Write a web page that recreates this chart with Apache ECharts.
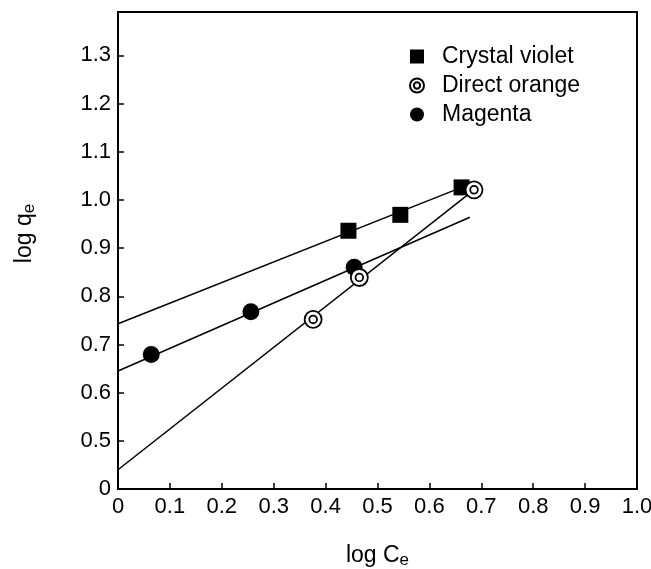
<!DOCTYPE html>
<html>
<head>
<meta charset="utf-8">
<script src="https://cdn.jsdelivr.net/npm/echarts@6/dist/echarts.min.js"></script>
<style>html,body{margin:0;padding:0;background:#fff}#c{width:651px;height:569px}</style>
</head>
<body>
<div id="c"></div>
<script>
// ---- data ----
const seriesNames = ['Crystal violet', 'Direct orange', 'Magenta'];
const crystalX = [0.444, 0.544, 0.662];
const crystalY = [0.936, 0.969, 1.026];
const orangeX = [0.376, 0.465, 0.686];
const orangeY = [0.752, 0.839, 1.021];
const magentaX = [0.064, 0.256, 0.455];
const magentaY = [0.679, 0.768, 0.860];
// fitted lines (endpoints)
const crystalFitX = [0, 0.662];
const crystalFitY = [0.743, 1.026];
const magentaFitX = [0, 0.678];
const magentaFitY = [0.645, 0.964];
const orangeFitX = [0, 0.686];
const orangeFitY = [0.440, 1.021];
// tick labels (y axis is broken: bottom tick labelled 0)
const xTicks = [0, 0.1, 0.2, 0.3, 0.4, 0.5, 0.6, 0.7, 0.8, 0.9, 1.0];
const xTickLabels = ['0', '0.1', '0.2', '0.3', '0.4', '0.5', '0.6', '0.7', '0.8', '0.9', '1.0'];
const yTicks = [0.4, 0.5, 0.6, 0.7, 0.8, 0.9, 1.0, 1.1, 1.2, 1.3];
const yTickLabels = ['0', '0.5', '0.6', '0.7', '0.8', '0.9', '1.0', '1.1', '1.2', '1.3'];

const zip = (a, b) => a.map((v, i) => [v, b[i]]);
const lookup = (ticks, labels) => v => {
  const i = ticks.findIndex(t => Math.abs(t - v) < 1e-6);
  return i >= 0 ? labels[i] : '';
};
const FONT = 'Liberation Sans, Arial, sans-serif';
const bullseye = 'path://M0,10A10,10 0 1,1 20,10A10,10 0 1,1 0,10ZM5.5,10A4.5,4.5 0 1,1 14.5,10A4.5,4.5 0 1,1 5.5,10Z';

const chart = echarts.init(document.getElementById('c'), null, {renderer: 'canvas'});
const fitLine = (xs, ys) => ({
  type: 'line', data: zip(xs, ys), symbol: 'none', silent: true,
  lineStyle: {color: '#000', width: 1.5}, z: 1
});
const titleRich = {
  a: {fontFamily: FONT, fontSize: 23, color: '#000'},
  b: {fontFamily: FONT, fontSize: 17, color: '#000', verticalAlign: 'bottom', padding: [10, 0, 0, 0]}
};
chart.setOption({
  animation: false,
  backgroundColor: '#fff',
  grid: {left: 118, right: 14, top: 12, bottom: 80, containLabel: false, outerBoundsMode: 'none',
         show: true, borderColor: '#000', borderWidth: 2, backgroundColor: 'transparent'},
  legend: {
    data: seriesNames,
    orient: 'vertical',
    left: 404, top: 40,
    itemWidth: 14, itemHeight: 14, itemGap: 6,
    textStyle: {fontFamily: FONT, fontSize: 23, color: '#000', padding: [0, 0, 0, 13]},
    selectedMode: false
  },
  xAxis: {
    type: 'value', min: 0, max: 1.0, interval: 0.1,
    name: '{a|log C}{b|e}', nameLocation: 'middle', nameGap: 53,
    nameTextStyle: {rich: titleRich},
    axisLine: {lineStyle: {color: '#000', width: 2}},
    axisTick: {inside: true, length: 6, lineStyle: {color: '#000', width: 1.5}},
    axisLabel: {fontFamily: FONT, fontSize: 22, color: '#000', margin: 7, formatter: lookup(xTicks, xTickLabels)},
    splitLine: {show: false}
  },
  yAxis: {
    type: 'value', min: 0.4, max: 1.39, interval: 0.1,
    name: '{a|log q}{b|e}', nameLocation: 'middle', nameGap: 80,
    nameTextStyle: {rich: titleRich, padding: [0, 0, 0, 34]},
    axisLine: {lineStyle: {color: '#000', width: 2}},
    axisTick: {inside: true, length: 6, lineStyle: {color: '#000', width: 1.5}},
    axisLabel: {fontFamily: FONT, fontSize: 22, color: '#000', margin: 7, showMaxLabel: false, formatter: lookup(yTicks, yTickLabels)},
    splitLine: {show: false}
  },
  series: [
    fitLine(crystalFitX, crystalFitY),
    fitLine(magentaFitX, magentaFitY),
    fitLine(orangeFitX, orangeFitY),
    {name: seriesNames[0], type: 'scatter', data: zip(crystalX, crystalY), symbol: 'rect', symbolSize: 16,
     itemStyle: {color: '#000', opacity: 1}, z: 3},
    {name: seriesNames[1], type: 'scatter', data: zip(orangeX, orangeY), symbol: bullseye, symbolSize: 17,
     itemStyle: {color: '#fff', borderColor: '#000', borderWidth: 1.8, opacity: 1}, z: 4},
    {name: seriesNames[2], type: 'scatter', data: zip(magentaX, magentaY), symbol: 'circle', symbolSize: 17,
     itemStyle: {color: '#000', opacity: 1}, z: 3}
  ]
});
</script>
</body>
</html>
